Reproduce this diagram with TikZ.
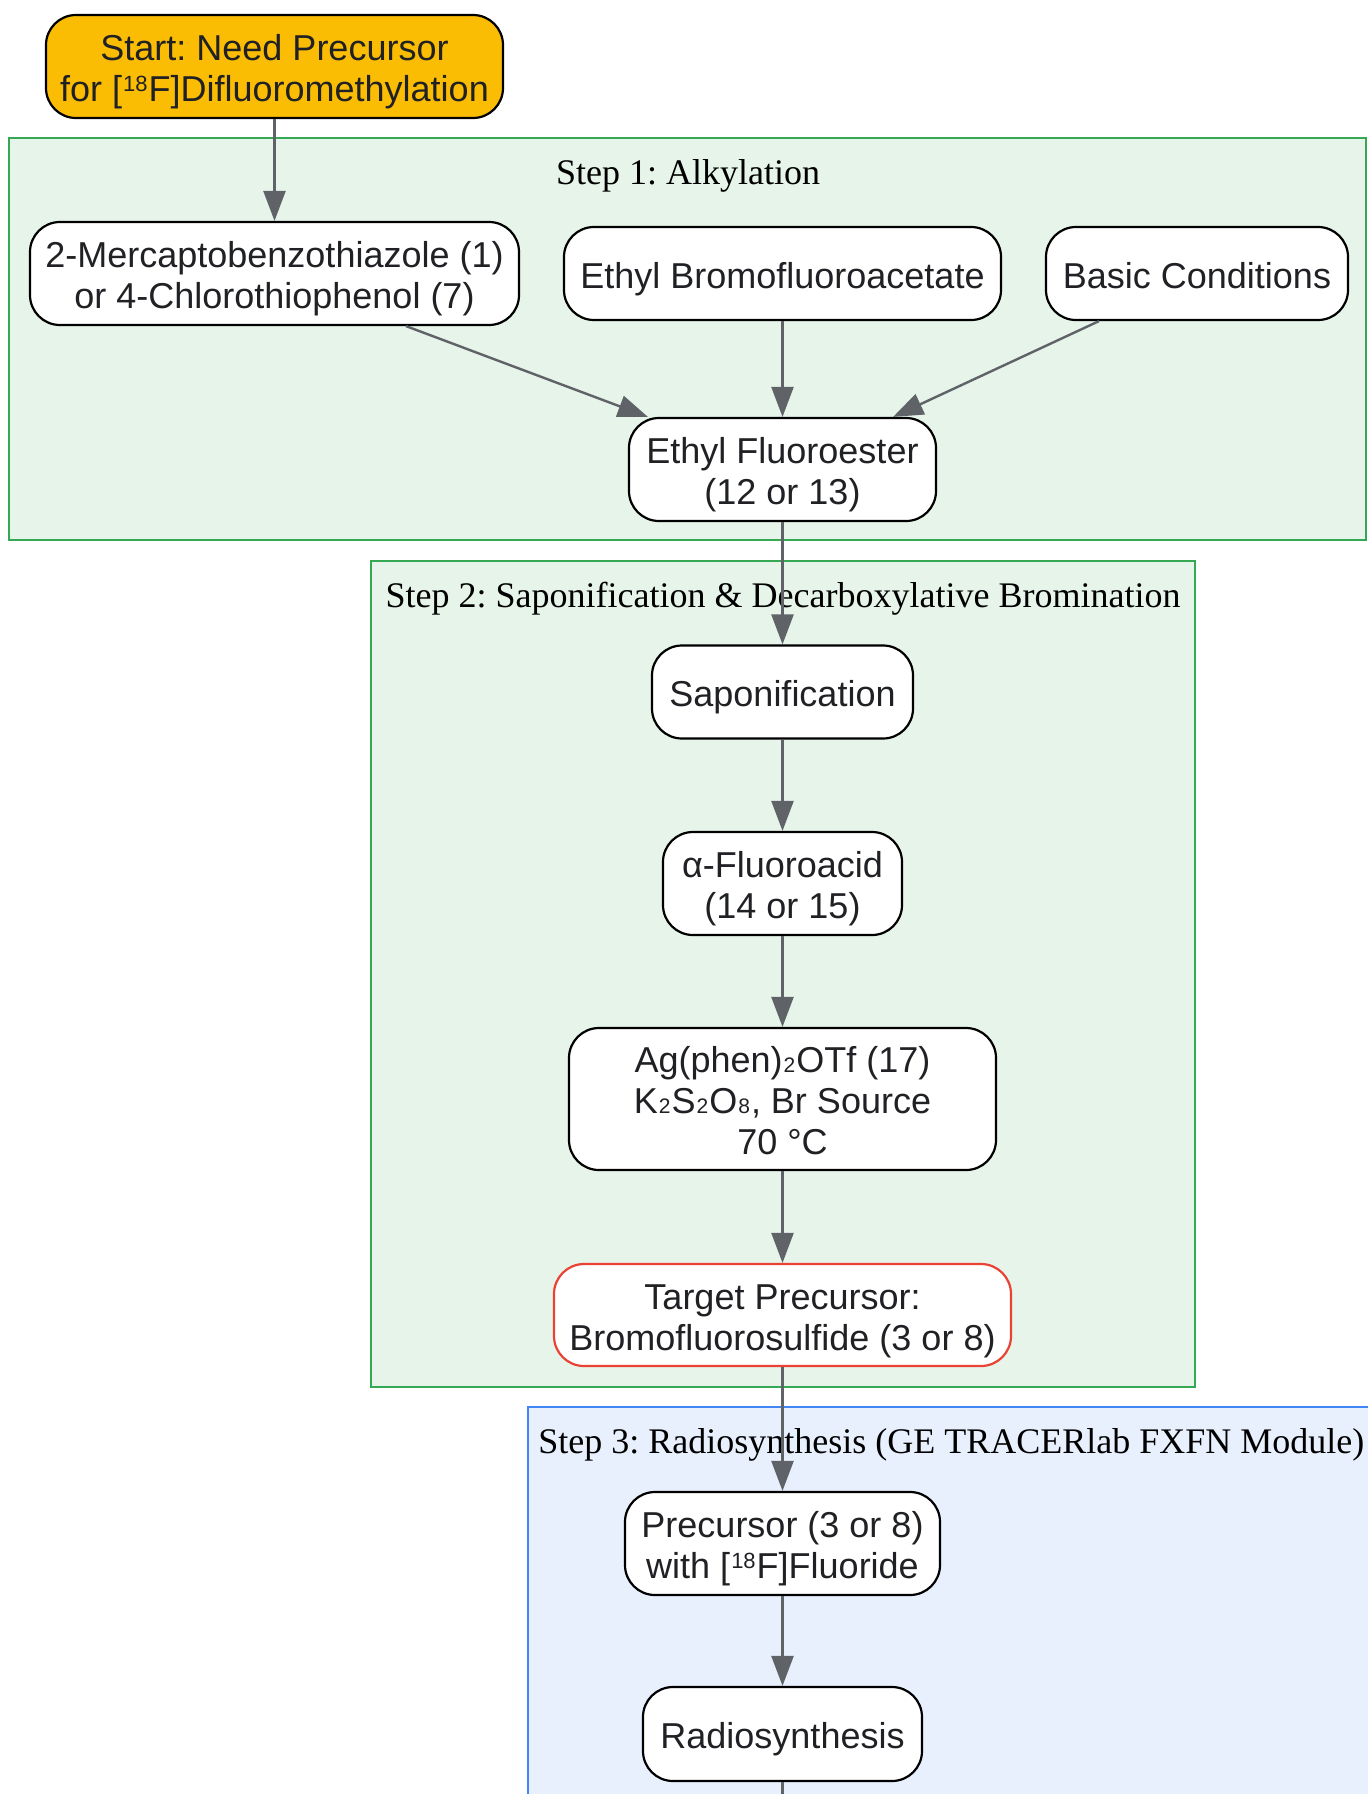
\documentclass[tikz,border=0pt]{standalone}
\usepackage{fontspec}
\setmainfont{Liberation Serif}
\setsansfont{Liberation Sans}
\usetikzlibrary{arrows.meta,calc}
\definecolor{startfill}{HTML}{FBBC04}
\definecolor{grfill}{HTML}{E6F4EA}
\definecolor{grline}{HTML}{34A853}
\definecolor{blfill}{HTML}{E8F0FE}
\definecolor{blline}{HTML}{4285F4}
\definecolor{redline}{HTML}{EA4335}
\definecolor{edgecol}{HTML}{5F6368}
\definecolor{txt}{HTML}{202124}
\newcommand{\mysub}[1]{\hspace{0.5pt}{\fontsize{10.5}{10.5}\selectfont #1}\hspace{0.5pt}}
\newcommand{\mysup}[1]{\hspace{0.5pt}\raisebox{5.2pt}{\fontsize{11}{11}\selectfont #1}\hspace{0.5pt}}
\newcommand{\lbl}[1]{\raisebox{-3.3pt}[\height][\depth]{\begin{tabular}{@{}c@{}}#1\end{tabular}}}
\frenchspacing
\begin{document}
\begin{tikzpicture}[x=0.5pt,y=-0.5pt,
  box/.style={draw=black, line width=1.1pt, fill=white, rounded corners=15pt, text=txt,
    font=\sffamily\fontsize{18}{20.5}\selectfont, inner sep=0pt},
  clusterbox/.style={line width=1pt},
  ctitle/.style={font=\rmfamily\fontsize{18}{20}\selectfont, text=black, inner sep=0pt},
  arr/.style={draw=edgecol, line width=1.2pt, -{Triangle[length=15pt,width=11pt]}},
  plainline/.style={draw=edgecol, line width=1.2pt}]
\useasboundingbox (0,0) rectangle (1368,1794);
\clip (0,0) rectangle (1368,1794);
% clusters
\draw[clusterbox, fill=grfill, draw=grline] (9,138) rectangle (1366,540);
\draw[clusterbox, fill=grfill, draw=grline] (371,561) rectangle (1195,1387);
\draw[clusterbox, fill=blfill, draw=blline] (528,1407) rectangle (1420,1850);
\node[ctitle] (t1) at (688,175.5) {Step 1: Alkylation};
\node[ctitle] (t2) at (783,598.5) {Step 2: Saponification \& Decarboxylative Bromination};
\node[ctitle, anchor=west] (t3) at (538,1444.5) {Step 3: Radiosynthesis (GE TRACERlab FXFN Module)};
% nodes
\node[box, fill=startfill, minimum width=228.5pt, minimum height=51.5pt] (start) at (274.5,66.5)
  {\lbl{Start: Need Precursor\\for [\mysup{18}F]Difluoromethylation}};
\node[box, minimum width=244.5pt, minimum height=51.5pt] (A) at (274.5,273.5)
  {\lbl{2-Mercaptobenzothiazole (1)\\or 4-Chlorothiophenol (7)}};
\node[box, minimum width=218.5pt, minimum height=46.5pt] (B) at (782.5,273.5) {\lbl{Ethyl Bromofluoroacetate}};
\node[box, minimum width=151pt, minimum height=46.5pt] (C) at (1197,273.5) {\lbl{Basic Conditions}};
\node[box, minimum width=153.5pt, minimum height=51.5pt] (D) at (782.5,469.5) {\lbl{Ethyl Fluoroester\\(12 or 13)}};
\node[box, minimum width=130.5pt, minimum height=46.5pt] (sap) at (782.5,692) {\lbl{Saponification}};
\node[box, minimum width=119.5pt, minimum height=51.5pt] (fa) at (782.5,883.5) {\lbl{α-Fluoroacid\\(14 or 15)}};
\node[box, minimum width=213.5pt, minimum height=71pt] (ag) at (782.5,1099)
  {\lbl{Ag(phen)\mysub{2}OTf (17)\\K\mysub{2}S\mysub{2}O\mysub{8}, Br Source\\70 °C}};
\node[box, draw=redline, minimum width=228.5pt, minimum height=51pt] (tgt) at (782.5,1315)
  {\lbl{Target Precursor:\\Bromofluorosulfide (3 or 8)}};
\node[box, minimum width=157.5pt, minimum height=51.5pt] (prec) at (782.5,1543.5)
  {\lbl{Precursor (3 or 8)\\with [\mysup{18}F]Fluoride}};
\node[box, minimum width=139.5pt, minimum height=47pt] (radio) at (782.5,1734) {\lbl{Radiosynthesis}};
\coordinate (bot) at (782.5,1800);
% edges
\draw[arr] (start) -- (A);
\draw[arr] ($(A.south)+(131.5,0)$) -- ($(D.north west)+(20,0)$);
\draw[arr] (B) -- (D);
\draw[arr] ($(C.south)+(-98,0)$) -- ($(D.north east)+(-44,0)$);
\draw[arr] (D) -- (sap);
\draw[arr] (sap) -- (fa);
\draw[arr] (fa) -- (ag);
\draw[arr] (ag) -- (tgt);
\draw[arr] (tgt) -- (prec);
\draw[arr] (prec) -- (radio);
\draw[plainline] (radio) -- (bot);
\end{tikzpicture}
\end{document}
